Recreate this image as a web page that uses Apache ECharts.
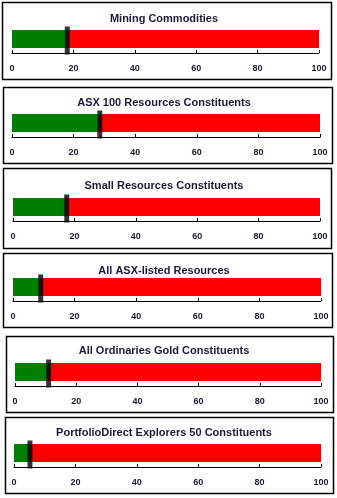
<!DOCTYPE html>
<html>
<head>
<meta charset="utf-8">
<script src="https://cdn.jsdelivr.net/npm/echarts@6/dist/echarts.min.js"></script>
<style>
html,body{margin:0;padding:0;background:#fff;}
#c{width:337px;height:498px;}
</style>
</head>
<body>
<div id="c"></div>
<script>
const titles = [
  'Mining Commodities',
  'ASX 100 Resources Constituents',
  'Small Resources Constituents',
  'All ASX-listed Resources',
  'All Ordinaries Gold Constituents',
  'PortfolioDirect Explorers 50 Constituents'
];
const values = [18, 28.5, 17.5, 9, 11, 5.2];
const rangeMax = [100, 100, 100, 100, 100, 100];
const axisMin = 0, axisMax = 100, axisStep = 20;

// layout (pixels)
const grids = [
  {left: 12, right: 18, top: 25, height: 28},
  {left: 12, right: 17, top: 109, height: 28},
  {left: 13, right: 17, top: 193, height: 28},
  {left: 13, right: 16, top: 273, height: 28},
  {left: 15, right: 16, top: 358, height: 28},
  {left: 14, right: 16, top: 439, height: 28}
];
const titleY = [15, 99, 182, 267, 347, 429];
const boxes = [
  {x: 2, y: 2, w: 329, h: 77},
  {x: 3, y: 87, w: 329, h: 76},
  {x: 3, y: 168, w: 328, h: 80},
  {x: 3, y: 253, w: 329, h: 74},
  {x: 6, y: 336, w: 327, h: 76},
  {x: 5, y: 417, w: 328, h: 76}
];

const chart = echarts.init(document.getElementById('c'), null, {renderer: 'canvas'});
const option = {
  animation: false,
  backgroundColor: '#ffffff',
  title: titles.map((t, i) => ({
    text: t,
    left: 159,
    top: titleY[i] - 7,
    textAlign: 'center',
    textStyle: {fontFamily: 'Liberation Sans, Arial, sans-serif', fontSize: 11, fontWeight: 'bold', color: '#1a1a3a'}
  })),
  grid: grids,
  xAxis: grids.map((g, i) => ({
    type: 'value', gridIndex: i, min: axisMin, max: axisMax, interval: axisStep,
    axisLine: {show: true, lineStyle: {color: '#000', width: 1}},
    axisTick: {show: true, inside: true, length: 3, lineStyle: {color: '#000'}},
    splitLine: {show: false},
    axisLabel: {margin: 11, fontFamily: 'Liberation Sans, Arial, sans-serif', fontSize: 9, fontWeight: 'bold', color: '#1a1a2e'}
  })),
  yAxis: grids.map((g, i) => ({
    type: 'category', gridIndex: i, data: [titles[i]],
    show: false
  })),
  graphic: boxes.map(b => ({
    type: 'rect', shape: {x: b.x + 0.5, y: b.y + 0.5, width: b.w, height: b.h},
    style: {fill: 'none', stroke: '#000', lineWidth: 1.5}, silent: true, z: -1
  })),
  series: []
};
titles.forEach((t, i) => {
  option.series.push({
    type: 'bar', xAxisIndex: i, yAxisIndex: i, data: [rangeMax[i]],
    barWidth: 18, itemStyle: {color: '#ff0000'}, z: 1, silent: true
  });
  option.series.push({
    type: 'bar', xAxisIndex: i, yAxisIndex: i, data: [values[i]],
    barWidth: 18, barGap: '-100%', itemStyle: {color: '#008000'}, z: 2, silent: true
  });
  option.series.push({
    type: 'scatter', xAxisIndex: i, yAxisIndex: i, data: [[values[i], 0]],
    symbol: 'rect', symbolSize: [5, 28], symbolOffset: [0, 1.5],
    itemStyle: {color: '#000000'}, z: 5, silent: true
  });
});
chart.setOption(option);
</script>
</body>
</html>
